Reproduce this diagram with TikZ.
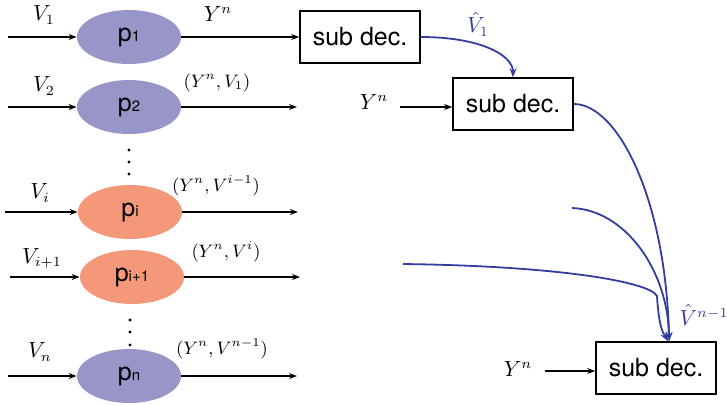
\documentclass[tikz,border=0pt]{standalone}
\usepackage{fontspec}
\setsansfont{TeX Gyre Heros}
\definecolor{decblue}{RGB}{52,62,158}
\definecolor{ppurple}{RGB}{152,150,200}
\definecolor{porange}{RGB}{245,152,122}
\usetikzlibrary{arrows.meta,positioning,shapes.geometric}
\newcommand{\pidx}[1]{p{\fontsize{7.5}{7.5}\selectfont #1}}

\tikzset{
  pnode/.style={ellipse, minimum width=52pt, minimum height=27pt, inner sep=0pt,
                font=\sffamily\fontsize{12.5}{13}\selectfont},
  subdec/.style={draw, line width=0.8pt, minimum width=60pt, minimum height=26pt,
                 inner sep=0pt, font=\sffamily\fontsize{12.5}{14}\selectfont},
  lbl/.style={inner sep=0pt, font=\fontsize{10.5}{12}\selectfont},
  pairlbl/.style={inner sep=0pt, font=\fontsize{8.8}{10}\selectfont},
  sig/.style={-{Stealth[length=4pt,width=3pt]}, line width=0.6pt},
  est/.style={-{Stealth[length=4.5pt,width=3.5pt]}, decblue, line width=0.9pt},
}

\begin{document}
\begin{tikzpicture}[x=0.5pt,y=-0.5pt]
\useasboundingbox (0,0) rectangle (727,404);

% source nodes
\node[pnode, fill=ppurple] (p1) at (129,37) {\pidx{1}};
\node[pnode, fill=ppurple] (p2) at (129,107) {\pidx{2}};
\node[pnode, fill=porange] (pi) at (130,212) {\pidx{i}};
\node[pnode, fill=porange] (pi1) at (132,277) {\pidx{i+1}};
\node[pnode, fill=ppurple] (pn) at (129,376) {\pidx{n}};

% dots between the rows
\foreach \y in {150,162,174} \fill (129,\y) circle (0.8pt);
\foreach \y in {320,332,345} \fill (130,\y) circle (0.8pt);

% inputs
\coordinate (in1) at (8,37);
\coordinate (in2) at (8,107);
\coordinate (ini) at (5,212);
\coordinate (ini1) at (10,277);
\coordinate (inn) at (8,376);
\draw[sig] (in1) -- (p1);
\draw[sig] (in2) -- (p2);
\draw[sig] (ini) -- (pi);
\draw[sig] (ini1) -- (pi1);
\draw[sig] (inn) -- (pn);
\node[lbl] (v1) at (44,15) {$V_1$};
\node[lbl] (v2) at (44,86) {$V_2$};
\node[lbl] (vi) at (40,193) {$V_i$};
\node[lbl] (vi1) at (42,258) {$V_{i+1}$};
\node[lbl] (vn) at (40,352) {$V_n$};

% outputs
\coordinate (out2) at (297,107);
\coordinate (outi) at (298,212);
\coordinate (outi1) at (300,277);
\coordinate (outn) at (297,376);
\draw[sig] (p2) -- (out2);
\draw[sig] (pi) -- (outi);
\draw[sig] (pi1) -- (outi1);
\draw[sig] (pn) -- (outn);
\node[lbl] (y1) at (218,14) {$Y^n$};
\node[pairlbl] (o2) at (217,83) {$(Y^n,V_1)$};
\node[pairlbl] (oi) at (216,186) {$(Y^n,V^{i-1})$};
\node[pairlbl] (oi1) at (226,252) {$(Y^n,V^i)$};
\node[pairlbl] (on) at (222,349) {$(Y^n,V^{n-1})$};

% sub decoders
\node[subdec] (b1) at (360,37) {sub dec.};
\node[subdec] (b2) at (513,104) {sub dec.};
\node[subdec] (b3) at (656,368) {sub dec.};
\draw[sig] (p1) -- (b1);

\node[lbl] (y2) at (374,102) {$Y^n$};
\coordinate (yin2) at (400,107);
\draw[sig] (yin2) -- (yin2 -| b2.west);
\node[lbl] (y3) at (518,369) {$Y^n$};
\coordinate (yin3) at (545,371);
\draw[sig] (yin3) -- (yin3 -| b3.west);

% estimates passed on
\draw[est] (b1.east) .. controls (480,37) and (513,55) .. (b2.north);
\node[lbl, text=decblue] (vh1) at (478,24) {$\hat V_1$};
\draw[est] (b2.east) .. controls (618,104) and (666,200) .. (b3.64);
\coordinate (vfree1) at (572,208);
\draw[est] (vfree1) .. controls (625,210) and (668,270) .. (b3.64);
\coordinate (vfree2) at (403,264);
\draw[est] (vfree2) .. controls (560,266) and (650,282) .. (657,296)
  .. controls (659,330) and (664,334) .. (b3.66);
\node[lbl, text=decblue] (vhn) at (704,315) {$\hat V^{n-1}$};
\end{tikzpicture}
\end{document}
